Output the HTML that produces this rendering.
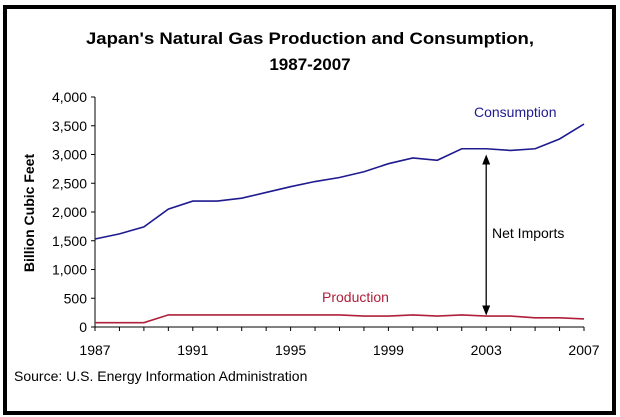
<!DOCTYPE html>
<html><head><meta charset="utf-8">
<style>
html,body{margin:0;padding:0;background:#fff;width:620px;height:417px;overflow:hidden}
svg{display:block;font-family:"Liberation Sans",sans-serif}
</style></head><body>
<svg id="chart" width="620" height="417">
  <rect x="5" y="7" width="609" height="406" fill="#fff" stroke="#000" stroke-width="4"/>
  <text x="310" y="44" text-anchor="middle" font-size="17" font-weight="bold" textLength="448" lengthAdjust="spacingAndGlyphs">Japan's Natural Gas Production and Consumption,</text>
  <text x="310" y="70" text-anchor="middle" font-size="17" font-weight="bold">1987-2007</text>
  <text transform="translate(34,213) rotate(-90)" text-anchor="middle" font-size="14" font-weight="bold">Billion Cubic Feet</text>
  <text x="14" y="381" font-size="14">Source: U.S. Energy Information Administration</text>
  <g id="plot"></g>
</svg>
<script>
const years = [1987,1988,1989,1990,1991,1992,1993,1994,1995,1996,1997,1998,1999,2000,2001,2002,2003,2004,2005,2006,2007];
const consumption = [1530,1620,1740,2050,2190,2190,2240,2340,2440,2530,2600,2700,2840,2940,2900,3100,3100,3070,3100,3270,3530];
const production = [75,75,75,210,210,210,210,210,210,210,210,190,190,210,190,210,190,190,160,160,140];
const yTicks = [0,500,1000,1500,2000,2500,3000,3500,4000];
const xLabels = [1987,1991,1995,1999,2003,2007];

const X0=95, X1=584, Y0=327, Y1=97;
function xs(v){return X0+(v-1987)/(2007-1987)*(X1-X0);}
function ys(v){return Y0-v/4000*(Y0-Y1);}
const NS="http://www.w3.org/2000/svg";
const g=document.getElementById('plot');
function mk(t,a){const e=document.createElementNS(NS,t);for(const k in a)e.setAttribute(k,a[k]);g.appendChild(e);return e;}

let e=mk('line',{x1:X0,y1:Y1,x2:X0,y2:Y0,stroke:'#000','stroke-width':1});


e=mk('line',{x1:X0,y1:Y0,x2:X1,y2:Y0,stroke:'#000','stroke-width':1});



yTicks.forEach(v=>{
  mk('line',{x1:X0-4,y1:ys(v),x2:X0,y2:ys(v),stroke:'#000'});
  const t=mk('text',{x:X0-8,y:ys(v)+5,'text-anchor':'end','font-size':14});
  t.textContent=v.toLocaleString('en-US');
  
  
});
years.forEach(v=>{mk('line',{x1:xs(v),y1:Y0,x2:xs(v),y2:Y0+4,stroke:'#000'});});
xLabels.forEach(v=>{
  const t=mk('text',{x:xs(v),y:355,'text-anchor':'middle','font-size':14});
  t.textContent=v;
  
  
});

function series(vals,color,name){
  const p=mk('polyline',{points:vals.map((v,i)=>xs(years[i])+','+ys(v)).join(' '),fill:'none',stroke:color,'stroke-width':1.6});
  
  
}
series(consumption,'#1f1a8f','consumption-line');
series(production,'#b0203a','production-line');

e=mk('text',{x:474,y:117,'font-size':14,fill:'#1f1a8f'});e.textContent='Consumption';


e=mk('text',{x:322,y:302,'font-size':14,fill:'#b0203a'});e.textContent='Production';



// net imports arrow at 2003
const ax=xs(2003), ay1=ys(3000), ay2=ys(200);
e=mk('line',{x1:ax,y1:ay1+6,x2:ax,y2:ay2-6,stroke:'#000','stroke-width':1.3});


mk('polygon',{points:`${ax},${ay1} ${ax-4},${ay1+10} ${ax+4},${ay1+10}`,fill:'#000'});
mk('polygon',{points:`${ax},${ay2} ${ax-4},${ay2-10} ${ax+4},${ay2-10}`,fill:'#000'});
e=mk('text',{x:492,y:238,'font-size':14});e.textContent='Net Imports';


</script>
</body></html>
